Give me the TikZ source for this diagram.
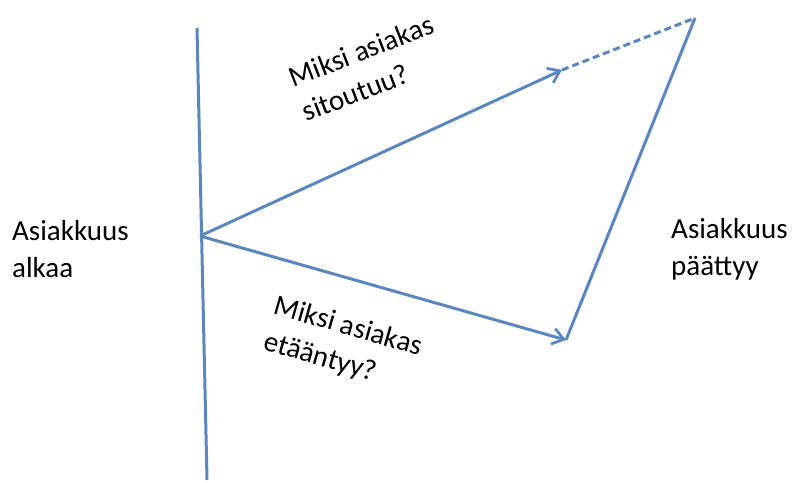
\documentclass[tikz,border=0pt]{standalone}
\usepackage{fontspec}
\setmainfont{Carlito}
\usetikzlibrary{arrows.meta}
\definecolor{lineblue}{HTML}{5B87BE}
\begin{document}
\begin{tikzpicture}[x=1pt,y=-1pt,
  ln/.style={draw=lineblue,line width=3pt},
  arr/.style={ln,-{Straight Barb[length=11pt,width=16pt,line width=2.8pt]}},
  lbl/.style={font=\fontsize{29}{37}\selectfont,align=left,inner sep=0pt}]
\useasboundingbox (0,0) rectangle (794,482);
\coordinate (top) at (197,28);
\coordinate (bot) at (207,480);
\coordinate (v) at (200,236);
\coordinate (ua) at (562,70);
\coordinate (apex) at (695,18);
\coordinate (la) at (566,340);
\draw[ln] (top) -- (bot);
\draw[arr] (v) -- (ua);
\draw[ln,dash pattern=on 7pt off 4pt] (ua) -- (apex);
\draw[ln,line join=round] (apex) -- (la);
\draw[arr] (v) -- (la);
\node[lbl,anchor=west] (start) at (12,249) {Asiakkuus\\alkaa};
\node[lbl,anchor=west] (end) at (671,249) {Asiakkuus\\päättyy};
\node[lbl,rotate=21] (why1) at (368,68) {Miksi asiakas\\sitoutuu?};
\node[lbl,rotate=-16] (why2) at (343,345) {Miksi asiakas\\etääntyy?};
\end{tikzpicture}
\end{document}
